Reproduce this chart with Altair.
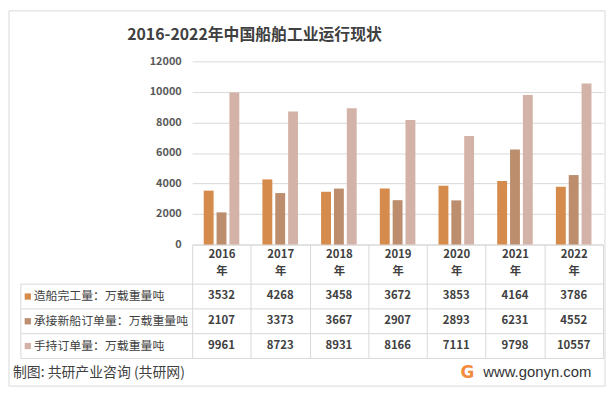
import altair as alt
import pandas as pd

years = ["2016", "2017", "2018", "2019", "2020", "2021", "2022"]
series_names = ["造船完工量：万载重量吨", "承接新船订单量：万载重量吨", "手持订单量：万载重量吨"]
completed = [3532, 4268, 3458, 3672, 3853, 4164, 3786]
new_orders = [2107, 3373, 3667, 2907, 2893, 6231, 4552]
holding = [9961, 8723, 8931, 8166, 7111, 9798, 10557]
colors = ["#D48B4C", "#BD8E6E", "#D3B3A8"]
y_ticks = [0, 2000, 4000, 6000, 8000, 10000, 12000]

title_text = "2016-2022年中国船舶工业运行现状"
source_text = "制图: 共研产业咨询 (共研网)"
site_text = "www.gonyn.com"

rows = []
for name, vals in zip(series_names, [completed, new_orders, holding]):
    for yr, v in zip(years, vals):
        rows.append({"year": yr, "series": name, "value": v})
df = pd.DataFrame(rows)
series_df = pd.DataFrame({"series": series_names})
last_df = pd.DataFrame({"series": [series_names[-1]]})
one = pd.DataFrame({"a": [0]})

FONT = "Noto Sans CJK SC"
W, H = 415, 185
GRID = "#D9D9D9"
TXT = "#404040"

xscale = alt.Scale(type="band", domain=years, paddingInner=0, paddingOuter=0)
color = alt.Color("series:N", scale=alt.Scale(domain=series_names, range=colors), legend=None)
row_scale = alt.Scale(type="band", domain=series_names, range=[225, 300], paddingInner=0, paddingOuter=0)

border = alt.Chart(one).mark_rect(fill="white", fillOpacity=0, stroke=GRID, strokeWidth=1).encode(
    x=alt.value(-185), x2=alt.value(417), y=alt.value(-51), y2=alt.value(328)
)

bars = alt.Chart(df).mark_bar().encode(
    x=alt.X("year:N", scale=xscale, sort=years,
            axis=alt.Axis(title=None, labelAngle=0, domainColor=GRID, tickColor=GRID,
                          tickSize=115, tickBand="extent", labelPadding=-111,
                          labelExpr="datum.label ? [datum.label, '年'] : ''", labelLineHeight=17,
                          labelFontSize=11.5, labelColor=TXT, labelFont=FONT,
                          labelFontWeight="bold", grid=False)),
    xOffset=alt.XOffset("series:N", sort=series_names,
                        scale=alt.Scale(domain=series_names, paddingInner=0.23, paddingOuter=0.9)),
    y=alt.Y("value:Q", scale=alt.Scale(domain=[0, 12000], nice=False),
            axis=alt.Axis(title=None, values=y_ticks, format="d", grid=True, gridColor=GRID,
                          domain=False, ticks=False, labelPadding=11, labelFontSize=11,
                          labelColor="#595959", labelFont=FONT, labelFontWeight="bold")),
    color=color,
)

values_text = alt.Chart(df).mark_text(font=FONT, fontSize=11.5, color=TXT, fontWeight="bold").encode(
    x=alt.X("year:N", scale=xscale, sort=years),
    y=alt.Y("series:N", scale=row_scale, axis=None),
    text=alt.Text("value:Q", format="d"),
)

hlines = alt.Chart(series_df).mark_rule(color=GRID, strokeWidth=1).encode(
    x=alt.value(-173), x2=alt.value(W),
    y=alt.Y("series:N", scale=row_scale, axis=None, bandPosition=0),
)
hline_last = alt.Chart(last_df).mark_rule(color=GRID, strokeWidth=1).encode(
    x=alt.value(-173), x2=alt.value(W),
    y=alt.Y("series:N", scale=row_scale, axis=None, bandPosition=1),
)
left_line = alt.Chart(one).mark_rule(color=GRID, strokeWidth=1).encode(
    x=alt.value(-173), y=alt.value(225), y2=alt.value(300)
)

swatches = alt.Chart(series_df).mark_point(shape="square", filled=True, size=40, opacity=1).encode(
    x=alt.value(-166),
    y=alt.Y("series:N", scale=row_scale, axis=None),
    color=color,
)
legend_labels = alt.Chart(series_df).mark_text(font=FONT, fontSize=12, color=TXT, align="left").encode(
    x=alt.value(-160),
    y=alt.Y("series:N", scale=row_scale, axis=None),
    text="series:N",
)

title = alt.Chart(one).mark_text(text=title_text, font=FONT, fontSize=16, fontWeight="bold",
                                  color=TXT, align="center", baseline="middle").encode(
    x=alt.value(63), y=alt.value(-27))
source = alt.Chart(one).mark_text(text=source_text, font=FONT, fontSize=14, color=TXT,
                                   align="left", baseline="middle").encode(
    x=alt.value(-181), y=alt.value(315))
site = alt.Chart(one).mark_text(text=site_text, font="Liberation Sans", fontSize=15, color="#333333",
                                 align="left", baseline="middle").encode(
    x=alt.value(294), y=alt.value(314))
logo = alt.Chart(one).mark_text(text="G", font="DejaVu Sans", fontSize=17, fontWeight="bold",
                                 color="#F28B3C", align="center", baseline="middle").encode(
    x=alt.value(278), y=alt.value(315))

chart = alt.layer(
    border, bars, hlines, hline_last, left_line, values_text, swatches, legend_labels,
    title, source, site, logo
).resolve_scale(y="independent").properties(
    width=W, height=H, padding=0, background="white"
).configure_view(stroke=None)

chart.save("out.html", embed_options={"renderer": "svg", "actions": False})
